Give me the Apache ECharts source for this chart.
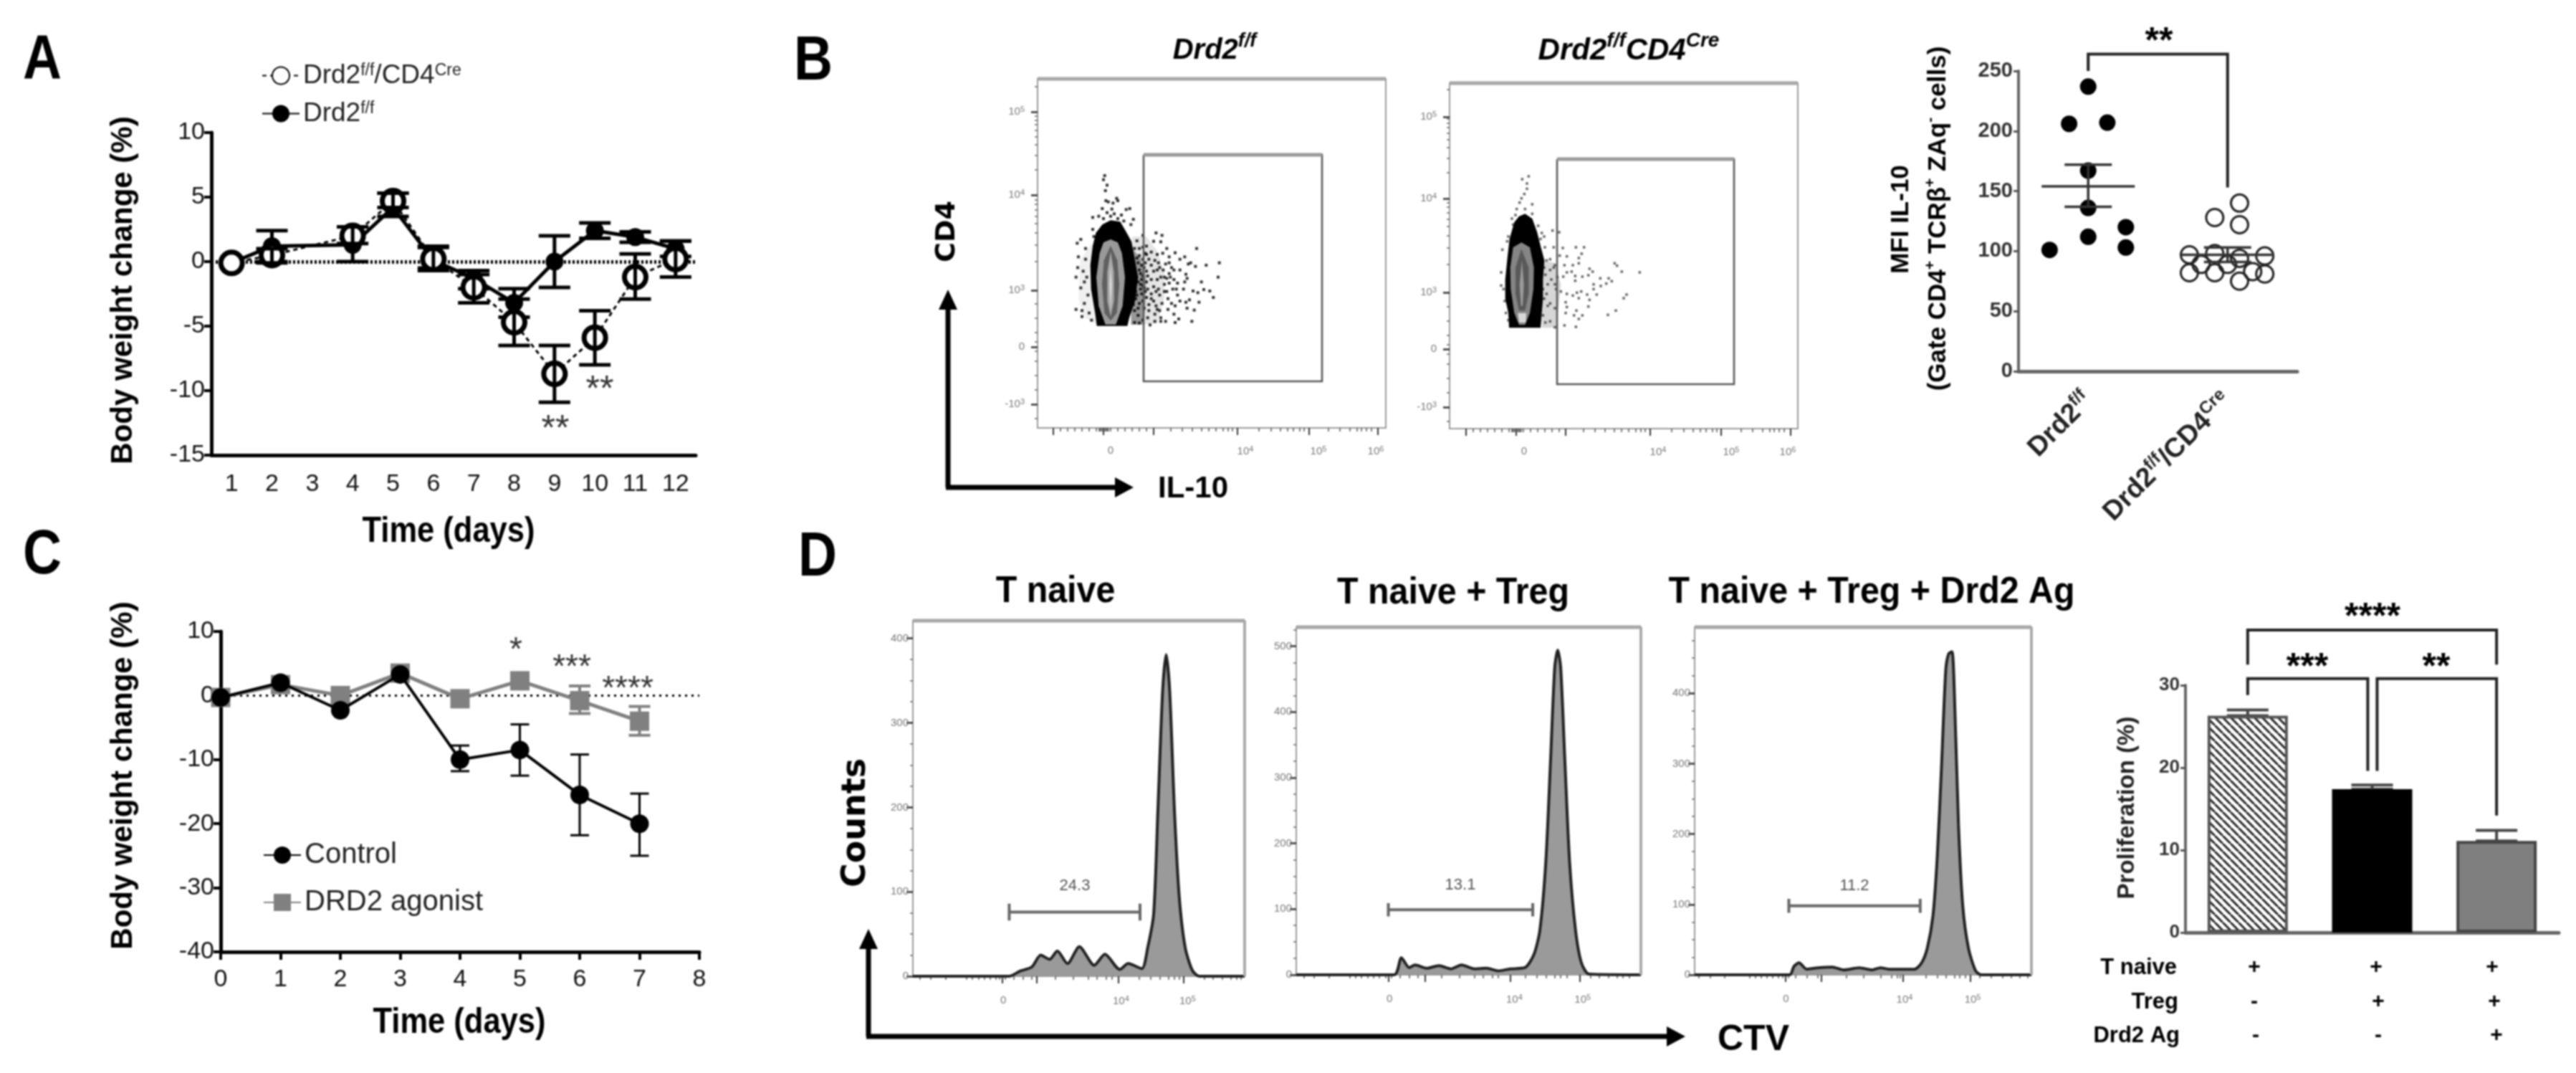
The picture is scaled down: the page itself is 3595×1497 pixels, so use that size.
<!DOCTYPE html>
<html><head><meta charset="utf-8">
<style>html,body{margin:0;padding:0;background:#fff}#c{width:3595px;height:1497px;filter:blur(.8px)}</style>
<script src="https://cdn.jsdelivr.net/npm/echarts@6/dist/echarts.min.js"></script>
</head><body><div id="c"></div>
<script>
/* ---------- Panel A ---------- */
const aDays=['1','2','3','4','5','6','7','8','9','10','11','12'];
const aOpen=[-0.1,0.5,null,2.0,4.7,0.2,-2.0,-4.7,-8.7,-5.9,-1.2,0.2];
const aOpenLow=[null,-0.1,null,1.4,4.2,-0.7,-3.2,-6.5,-10.9,-8.0,-2.9,-1.2];
const aOpenHigh=[null,1.0,null,2.7,5.3,1.2,-1.0,-2.9,-6.5,-3.8,0.6,1.6];
const aFilled=[-0.1,1.2,null,1.3,4.2,0.1,-1.3,-3.2,0.0,2.4,1.9,1.0];
const aFilledLow=[null,0.0,null,0.0,3.5,-0.5,-2.1,-4.3,-2.0,1.8,1.5,0.4];
const aFilledHigh=[null,2.4,null,2.7,5.3,1.1,-0.7,-2.1,2.0,3.0,2.3,1.6];
/* ---------- Panel C ---------- */
const cDays=[0,1,2,3,4,5,6,7];
const cControl=[-0.3,2.0,-2.3,3.3,-10.0,-8.5,-15.5,-20.0];
const cControlLow=[null,null,null,null,-11.8,-12.5,-21.8,-25.0];
const cControlHigh=[null,null,null,null,-7.8,-4.5,-9.2,-15.3];
const cAgonist=[-0.3,1.7,0.0,3.5,-0.5,2.3,-0.8,-4.0];
const cAgonistLow=[null,null,null,null,null,null,-2.8,-6.2];
const cAgonistHigh=[null,null,null,null,null,null,1.5,-1.7];
/* ---------- Panel B, MFI dot plot ---------- */
const bGroups=['Drd2f/f','Drd2f/f/CD4Cre'];
const bFilledPoints=[[0,237],[-0.137,206],[0.137,207],[0,167],[0,136],[0,112],[0.27,120],[0.27,103],[-0.277,101]];
const bOpenPoints=[[1.086,140],[0.908,128],[1.086,122],[0.726,97],[0.908,98],[1.086,94],[1.267,96],[0.81,89],[1,89],[0.726,82],[0.908,82],[1.086,75],[1.267,81],[1.18,83]];
const bSummary=[[0,154,137,172],[1,97,91,103]];
const bBracket=[[0,250],[0,264],[1,264],[1,153]];
/* ---------- Panel D, proliferation bars ---------- */
const dGroups=['A','B','C'];
const dBars=[26.3,17.4,11.1];
const dBarHigh=[27.0,17.9,12.4];
const dBracketLeft=[[0,28.8],[0,30.8],[0.965,30.8],[0.965,19.6]];
const dBracketRight=[[1.04,19.6],[1.04,30.8],[2,30.8],[2,14.2]];
const dBracketTop=[[0,32.5],[0,36.7],[2,36.7],[2,32.5]];
/* ---------- Panel D, CTV histograms (channel, count) ---------- */
const histNaive=[[210,0],[372,0],[390,6],[410,11],[425,25],[440,20],[453,30],[470,15],[490,35],[515,13],[533,26],[558,8],[572,15],[595,9],[605,34],[615,74],[622,195],[630,337],[636,381],[642,337],[650,195],[658,94],[668,34],[680,7],[692,0],[768,0]];
const histTreg=[[855,0],[1020,0],[1032,26],[1045,11],[1055,15],[1075,10],[1095,14],[1115,9],[1133,15],[1155,9],[1175,10],[1195,6],[1215,9],[1240,11],[1255,31],[1265,68],[1275,172],[1283,327],[1290,468],[1295,494],[1300,468],[1307,327],[1315,172],[1325,68],[1335,18],[1348,1],[1435,0]];
const histAgonist=[[165,0],[500,0],[515,12],[533,17],[560,8],[600,10],[650,11],[690,7],[745,10],[790,7],[820,10],[850,8],[940,8],[965,17],[985,38],[1005,84],[1020,167],[1035,295],[1050,433],[1060,456],[1072,459],[1080,406],[1095,213],[1110,98],[1130,38],[1155,6],[1175,0],[1352,0]];
const gateNaive=[[372,66],[372,86],[372,76],[592,76],[592,66],[592,86]];
const gateTreg=[[1010,89],[1010,109],[1010,99],[1253,99],[1253,89],[1253,109]];
const gateAgonist=[[497,88],[497,108],[497,98],[960,98],[960,88],[960,108]];
const histLabels=['24.3','13.1','11.2'];
/* ---------- Panel B, flow cytometry dot plots (display channels) ---------- */
const dotsFF=[[125,45],[120,62],[135,85],[128,108],[130,150],[175,140],[180,150],[140,155],[160,160],[115,183],[155,185],[230,183],[215,187],[75,220],[100,215],[245,228],[135,200],[165,205],[195,210],[120,225],[150,215],[180,225],[205,235],[235,250],[75,270],[80,300],[25,312],[10,328],[45,350],[15,385],[45,395],[12,430],[35,445],[50,470],[5,470],[40,490],[25,515],[55,545],[40,580],[5,605],[30,635],[60,620],[70,650],[30,610],[285,295],[340,285],[365,295],[260,318],[330,320],[360,322],[385,350],[300,340],[270,350],[345,375],[368,370],[420,368],[395,385],[510,350],[460,385],[440,395],[485,410],[505,425],[475,415],[550,420],[605,410],[600,470],[530,490],[565,528],[580,555],[540,522],[515,535],[495,528],[520,575],[480,565],[465,575],[470,600],[500,608],[490,655],[440,570],[420,590],[415,625],[435,645],[420,660],[380,655],[360,655],[335,655],[390,605],[355,610],[360,640],[315,670],[465,458],[470,475],[415,480],[430,495],[395,410],[350,410],[310,395],[290,430],[275,455],[305,465],[330,445],[370,440],[395,455],[345,480],[375,500],[410,520],[395,495],[330,510],[305,520],[280,540],[300,555],[320,540],[355,545],[390,560],[430,545],[455,520],[460,490],[270,380],[265,410],[295,370],[300,490],[285,505],[265,490],[255,530],[270,580],[290,600],[310,585],[340,590],[365,580],[250,610],[265,630],[285,650],[250,660],[270,662],[305,640],[335,625],[280,480],[295,410],[320,420],[345,440],[415,440],[440,440],[385,530],[405,580],[350,520],[425,520],[285,345],[250,350],[260,390],[245,440],[255,470],[280,420],[300,445],[320,480],[360,470],[385,475],[255,560],[245,585],[275,520],[295,530],[310,610],[330,570],[270,440],[285,465],[275,500],[290,515],[260,545],[285,570],[265,600],[250,500],[245,540],[300,375],[285,395],[320,365],[335,400],[355,430],[380,415],[405,430],[375,470],[340,530],[320,560],[345,605],[375,530],[400,470]];
const dotsCre=[[190,48],[163,60],[183,78],[183,100],[172,122],[160,140],[152,158],[205,165],[140,185],[175,185],[135,210],[120,225],[205,205],[125,250],[230,255],[245,285],[255,300],[290,275],[318,282],[105,300],[240,310],[100,320],[80,355],[258,345],[295,345],[333,348],[388,345],[422,345],[320,380],[350,383],[412,372],[400,390],[400,412],[375,420],[340,420],[280,395],[300,420],[550,412],[560,422],[580,447],[655,450],[445,435],[458,447],[75,450],[440,462],[415,468],[385,465],[370,447],[350,450],[335,468],[385,485],[490,475],[525,475],[538,487],[515,497],[492,507],[462,500],[462,520],[475,543],[435,543],[410,530],[392,535],[375,547],[350,540],[325,530],[305,520],[400,558],[445,565],[600,543],[588,558],[555,610],[522,628],[440,593],[345,575],[350,595],[390,610],[345,620],[380,630],[415,630],[400,645],[340,672],[388,678],[300,680],[280,655],[260,660],[250,630],[270,590],[255,560],[280,580],[300,600],[265,540],[250,520],[270,500],[300,500],[285,480],[260,460],[280,440],[295,430],[255,430],[310,470],[265,400],[90,570],[85,520],[95,620],[75,505],[105,650]];
const blobFF=[
 {fill:'rgba(0,0,0,.06)',pts:[[68,330],[22,400],[15,560],[40,640],[90,668],[90,340]]},
 {fill:'rgba(0,0,0,.10)',pts:[[240,300],[300,300],[345,360],[375,450],[375,560],[345,664],[235,672]]},
 {fill:'rgba(0,0,0,.34)',pts:[[240,350],[275,390],[298,470],[295,600],[285,668],[235,668]]},
 {fill:'#000',pts:[[150,232],[190,238],[212,275],[237,320],[252,400],[265,470],[252,570],[228,640],[220,674],[92,674],[85,620],[68,520],[65,420],[75,340],[88,285],[115,250]]},
 {fill:'#9a9a9a',pts:[[150,312],[180,325],[197,370],[210,470],[200,590],[172,668],[128,668],[100,590],[90,470],[104,370],[120,325]]},
 {fill:'#5f5f5f',pts:[[150,338],[178,400],[186,500],[176,620],[150,652],[124,620],[114,500],[122,400]]},
 {fill:'#a8a8a8',pts:[[150,362],[164,450],[164,570],[150,636],[136,570],[136,450]]},
 {fill:'#dddddd',pts:[[150,420],[155,500],[150,610],[145,500]]}];
const blobCre=[
 {fill:'rgba(0,0,0,.16)',pts:[[245,400],[300,410],[325,500],[315,600],[305,682],[245,682]]},
 {fill:'#000',pts:[[175,205],[205,225],[225,280],[240,340],[256,400],[250,480],[250,560],[245,620],[240,682],[108,682],[105,620],[92,560],[92,480],[100,400],[110,310],[130,240],[150,215]]},
 {fill:'#858585',pts:[[160,325],[195,345],[212,430],[210,520],[195,620],[175,670],[150,670],[130,620],[115,520],[113,430],[125,345]]},
 {fill:'#595959',pts:[[160,352],[190,430],[190,540],[175,610],[150,610],[135,540],[135,430]]},
 {fill:'#9b9b9b',pts:[[162,400],[170,500],[165,590],[158,590],[152,500]]},
 {fill:'#d8d8d8',pts:[[145,620],[180,620],[178,660],[150,660]]}];
const gateFF=[[288,-42],[1035,-42],[1035,906],[288,906],[288,-42]];
const gateCre=[[309,-24],[1050,-24],[1050,918],[309,918],[309,-24]];

/* ---------- shared ---------- */
const NARROW='"Liberation Sans",sans-serif';
const SANS='"Liberation Sans",sans-serif';
const grids=[],xAxes=[],yAxes=[],series=[],legends=[];
const blank={splitLine:{show:false}};
function addGrid(l,t,w,h,extra){grids.push(Object.assign({left:l,top:t,width:w,height:h,outerBoundsMode:'none'},extra||{}));return grids.length-1;}
function addX(o){xAxes.push(Object.assign({position:'bottom'},blank,o));return xAxes.length-1;}
function addY(o){yAxes.push(Object.assign({position:'left'},blank,o));return yAxes.length-1;}
function poly(xi,yi,pts,color,width,z,type){
 series.push({type:'line',xAxisIndex:xi,yAxisIndex:yi,data:pts,symbol:'none',silent:true,clip:false,z:z||5,
  lineStyle:{color,width,type:type||'solid',cap:'butt',join:'miter'},emphasis:{disabled:true}});
}
function errBars(xi,yi,rows,capPx,width,color,z){
 series.push({type:'custom',xAxisIndex:xi,yAxisIndex:yi,clip:false,z:z||3,silent:true,data:rows,
  encode:{x:0,y:[1,2]},
  renderItem(p,api){
   const x=api.value(0),a=api.coord([x,api.value(1)]),b=api.coord([x,api.value(2)]);
   const st={stroke:color,lineWidth:width,fill:null};
   const L=(x1,y1,x2,y2)=>({type:'line',shape:{x1,y1,x2,y2},style:st});
   return {type:'group',children:[L(a[0],a[1],b[0],b[1]),L(a[0]-capPx/2,a[1],a[0]+capPx/2,a[1]),L(b[0]-capPx/2,b[1],b[0]+capPx/2,b[1])]};
  }});
}
const rows=(xs,lo,hi)=>xs.map((x,i)=>[x,lo[i],hi[i]]).filter(r=>r[1]!==null);
function polygonSeries(xi,yi,pts,fill,z){
 series.push({type:'custom',xAxisIndex:xi,yAxisIndex:yi,silent:true,clip:false,z,data:[pts[0]],encode:{x:0,y:1},
  renderItem(p,api){return {type:'polygon',shape:{points:pts.map(q=>api.coord(q))},style:{fill}};}});
}
const numAxisLabel=(size,color,family,margin,weight)=>({fontSize:size,color,fontFamily:family,margin,fontWeight:weight||'normal'});

/* ---------- Panel A chart ---------- */
{
 const g=addGrid(295,185,676,450);
 const xi=addX({gridIndex:g,type:'category',data:aDays,boundaryGap:true,
  axisLine:{onZero:false,lineStyle:{color:'#000',width:5}},axisTick:{alignWithLabel:true,length:11,lineStyle:{color:'#000',width:4}},
  axisLabel:Object.assign({interval:0},numAxisLabel(34,'#111',NARROW,24))});
 const yi=addY({gridIndex:g,type:'value',min:-15,max:10,interval:5,
  axisLine:{show:true,onZero:false,lineStyle:{color:'#000',width:5}},axisTick:{show:true,length:10,lineStyle:{color:'#000',width:4}},
  axisLabel:numAxisLabel(34,'#111',NARROW,9)});
 errBars(xi,yi,rows(aDays.map((d,i)=>i),aFilledLow,aFilledHigh),44,5,'#000',3);
 series.push({name:'Drd2f/f',type:'line',xAxisIndex:xi,yAxisIndex:yi,data:aFilled,connectNulls:true,symbol:'circle',symbolSize:25,z:4,
  lineStyle:{color:'#000',width:5},itemStyle:{color:'#000'},
  markLine:{silent:true,symbol:'none',label:{show:false},animation:false,data:[{yAxis:0}],lineStyle:{color:'#000',width:5,type:[3,3],cap:'butt'}}});
 series.push({name:'Drd2f/f/CD4Cre',type:'line',xAxisIndex:xi,yAxisIndex:yi,data:aOpen,connectNulls:true,symbol:'circle',symbolSize:30,z:6,
  lineStyle:{color:'#000',width:3,type:[6,5]},itemStyle:{color:'#fff',borderColor:'#000',borderWidth:7}});
 errBars(xi,yi,rows(aDays.map((d,i)=>i),aOpenLow,aOpenHigh),44,5,'#000',7);
 const sup={verticalAlign:'top',fontSize:23,fontFamily:NARROW,color:'#222',lineHeight:36};
 legends.push({left:360,top:82,orient:'vertical',itemWidth:52,itemHeight:30,itemGap:16,
  data:['Drd2f/f/CD4Cre','Drd2f/f'],
  textStyle:{fontFamily:NARROW,fontSize:37,color:'#222',rich:{s:sup,t:{fontSize:37,fontFamily:NARROW,color:'#222',lineHeight:36}}},
  formatter:n=>n==='Drd2f/f'?'{t|Drd2}{s|f/f}':'{t|Drd2}{s|f/f}{t|/CD4}{s|Cre}'});
}
/* ---------- Panel C chart ---------- */
{
 const g=addGrid(308,881,668,447);
 const xi=addX({gridIndex:g,type:'value',min:0,max:8,interval:1,
  axisLine:{onZero:false,lineStyle:{color:'#000',width:5}},axisTick:{length:11,lineStyle:{color:'#000',width:4}},
  axisLabel:numAxisLabel(34,'#111',NARROW,22)});
 const yi=addY({gridIndex:g,type:'value',min:-40,max:10,interval:10,
  axisLine:{show:true,onZero:false,lineStyle:{color:'#000',width:5}},axisTick:{show:true,length:10,lineStyle:{color:'#000',width:4}},
  axisLabel:numAxisLabel(34,'#111',NARROW,9)});
 errBars(xi,yi,rows(cDays,cAgonistLow,cAgonistHigh),30,4,'#808080',3);
 series.push({name:'DRD2 agonist',type:'line',xAxisIndex:xi,yAxisIndex:yi,data:cDays.map((d,i)=>[d,cAgonist[i]]),symbol:'rect',symbolSize:27,z:4,
  lineStyle:{color:'#808080',width:5},itemStyle:{color:'#808080'},
  markLine:{silent:true,symbol:'none',label:{show:false},animation:false,data:[{yAxis:0}],lineStyle:{color:'#000',width:3,type:[3,6],cap:'butt'},z:2}});
 errBars(xi,yi,rows(cDays,cControlLow,cControlHigh),26,3,'#000',5);
 series.push({name:'Control',type:'line',xAxisIndex:xi,yAxisIndex:yi,data:cDays.map((d,i)=>[d,cControl[i]]),symbol:'circle',symbolSize:26,z:6,
  lineStyle:{color:'#000',width:4},itemStyle:{color:'#000'}});
 legends.push({left:362,top:1168,orient:'vertical',itemWidth:52,itemHeight:30,itemGap:26,
  data:['Control','DRD2 agonist'],textStyle:{fontFamily:NARROW,fontSize:40,color:'#222'}});
}
/* ---------- Panel B MFI chart ---------- */
{
 const g=addGrid(2817,99,389,419);
 const supB={verticalAlign:'top',fontSize:24,fontFamily:SANS,color:'#222',fontWeight:'bold',lineHeight:44};
 const tB={fontSize:38,fontFamily:SANS,color:'#222',fontWeight:'bold',lineHeight:44};
 const xc=addX({gridIndex:g,type:'category',data:bGroups,
  axisLine:{onZero:false,lineStyle:{color:'#666',width:5}},axisTick:{alignWithLabel:true,length:8,lineStyle:{color:'#555',width:3}},
  axisLabel:{interval:0,rotate:45,margin:36,rich:{s:supB,t:tB},
   formatter:n=>n==='Drd2f/f'?'{t|Drd2}{s|f/f}':'{t|Drd2}{s|f/f}{t|/CD4}{s|Cre}'}});
 const xv=addX({gridIndex:g,type:'value',min:-0.5,max:1.5,show:false});
 const yi=addY({gridIndex:g,type:'value',min:0,max:250,interval:50,
  axisLine:{show:true,onZero:false,lineStyle:{color:'#666',width:4}},axisTick:{show:true,length:7,lineStyle:{color:'#555',width:3}},
  axisLabel:numAxisLabel(29,'#333',SANS,8,'bold')});
 series.push({type:'scatter',xAxisIndex:xv,yAxisIndex:yi,data:bFilledPoints,symbol:'circle',symbolSize:23,itemStyle:{color:'#000',opacity:1},z:3});
 series.push({type:'scatter',xAxisIndex:xv,yAxisIndex:yi,data:bOpenPoints,symbol:'circle',symbolSize:24,itemStyle:{color:'rgba(255,255,255,0)',borderColor:'#222',borderWidth:3,opacity:1},z:3});
 series.push({type:'custom',xAxisIndex:xv,yAxisIndex:yi,silent:true,z:4,clip:false,data:bSummary,encode:{x:0,y:[1,2,3]},
  renderItem(p,api){
   const x=api.value(0),m=api.coord([x,api.value(1)]),a=api.coord([x,api.value(2)]),b=api.coord([x,api.value(3)]);
   const st={stroke:'#333',lineWidth:3.5,fill:null};
   const L=(x1,y1,x2,y2)=>({type:'line',shape:{x1,y1,x2,y2},style:st});
   return {type:'group',children:[L(m[0]-65,m[1],m[0]+65,m[1]),L(a[0],a[1],b[0],b[1]),L(a[0]-33,a[1],a[0]+33,a[1]),L(b[0]-33,b[1],b[0]+33,b[1])]};
  }});
 poly(xv,yi,bBracket,'#222',4,5);
}
/* ---------- Panel D bars ---------- */
{
 const g=addGrid(3050,956,521,345);
 const xc=addX({gridIndex:g,type:'category',data:dGroups,
  axisLine:{onZero:false,lineStyle:{color:'#666',width:5}},axisTick:{alignWithLabel:true,length:8,lineStyle:{color:'#555',width:3}},axisLabel:{show:false}});
 const xv=addX({gridIndex:g,type:'value',min:-0.5,max:2.5,show:false});
 const yi=addY({gridIndex:g,type:'value',min:0,max:30,interval:10,
  axisLine:{show:true,onZero:false,lineStyle:{color:'#666',width:4}},axisTick:{show:true,length:7,lineStyle:{color:'#555',width:3}},
  axisLabel:numAxisLabel(26,'#333',SANS,8,'bold')});
 const tile=document.createElement('canvas');tile.width=tile.height=11;
 const ctx=tile.getContext('2d');ctx.fillStyle='#fff';ctx.fillRect(0,0,11,11);ctx.strokeStyle='#222';ctx.lineWidth=3;
 [[-11,-0],[0,0],[11,0]].forEach(o=>{ctx.beginPath();ctx.moveTo(o[0],0);ctx.lineTo(o[0]+11,11);ctx.stroke();});
 const styles=[{color:{image:tile,repeat:'repeat'},borderColor:'#555',borderWidth:4},{color:'#000',borderColor:'#000',borderWidth:2},{color:'#7f7f7f',borderColor:'#444',borderWidth:4}];
 errBars(xc,yi,dGroups.map((d,i)=>[i,dBars[i],dBarHigh[i]]),58,4,'#444',1);
 series.push({type:'bar',xAxisIndex:xc,yAxisIndex:yi,barWidth:112,z:3,data:dBars.map((v,i)=>({value:v,itemStyle:styles[i]}))});
 poly(xv,yi,dBracketLeft,'#222',4,5);
 poly(xv,yi,dBracketRight,'#222',4,5);
 poly(xv,yi,dBracketTop,'#222',4,5);
}
/* ---------- flow plots ---------- */
function flowPlot(o){
 const g=addGrid(o.left,o.top,o.w,o.h,{show:true,borderColor:'#9a9a9a',borderWidth:2,backgroundColor:'transparent'});
 const sup={verticalAlign:'top',fontSize:11,color:'#777',fontFamily:SANS,lineHeight:18};
 const tk={fontSize:15,color:'#777',fontFamily:SANS,lineHeight:18};
 const fmt=(vals,txt)=>v=>{const i=vals.indexOf(v);return i<0?'':txt[i];};
 const xi=addX({gridIndex:g,type:'value',min:o.xr[0],max:o.xr[1],axisLine:{show:false,onZero:false},
  axisTick:{show:true,customValues:o.xMajor,length:10,lineStyle:{color:'#333',width:2}},
  axisLabel:{show:true,customValues:o.xLabelAt,formatter:fmt(o.xLabelAt,o.xLabels),margin:o.xMargin||24,rich:{s:sup,t:tk},fontSize:15,color:'#777',hideOverlap:false,showMinLabel:true,showMaxLabel:true}});
 addX({gridIndex:g,type:'value',min:o.xr[0],max:o.xr[1],axisLine:{show:false,onZero:false},
  axisTick:{show:true,customValues:o.xMinor,length:5,lineStyle:{color:'#555',width:1.5}},axisLabel:{show:false}});
 const yi=addY({gridIndex:g,type:'value',min:o.yr[0],max:o.yr[1],inverse:!!o.yInverse,axisLine:{show:false,onZero:false},
  axisTick:{show:true,customValues:o.yMajor,length:9,lineStyle:{color:'#333',width:2.5}},
  axisLabel:{show:true,customValues:o.yMajor,formatter:fmt(o.yMajor,o.yLabels),margin:o.yMargin||6,rich:{s:sup,t:tk},fontSize:15,color:'#777',hideOverlap:false,showMinLabel:true,showMaxLabel:true}});
 addY({gridIndex:g,type:'value',min:o.yr[0],max:o.yr[1],inverse:!!o.yInverse,axisLine:{show:false,onZero:false},
  axisTick:{show:true,customValues:o.yMinor,length:4,lineStyle:{color:'#666',width:1.5}},axisLabel:{show:false}});
 const ytop=o.yInverse?o.yr[0]:o.yr[1];
 poly(xi,yi,[[o.xr[0],ytop],[o.xr[1],ytop]],'#a6a6a6',5,8);
 if(o.thickRight) poly(xi,yi,[[o.xr[1],o.yr[0]],[o.xr[1],o.yr[1]]],'#aaaaaa',4,8);
 return {xi,yi};
}
const bYLabels=['10{s|5}','10{s|4}','10{s|3}','0','-10{s|3}'];
const bXLabels=['0','10{s|4}','10{s|5}','10{s|6}'];
const bXMinor=[-60,-30,0,30,60,90,100,105,110,115,120,125,130,135,140,150,180,210,240,270,300,400,450,490,530,560,590,620,640,660,770,820,860,890,915,940,960,1060,1110,1150,1180,1200,1220,1240];
const bYMinor=[-327,-206,-188,-168,-145,-117,-84,-40,21,145,165,188,215,246,285,335,405,580,640,700,740,780,820,880,940,1060];
{
 const p=flowPlot({left:1448,top:110,w:486,h:487,xr:[-156,1302],yr:[-360,1101],yInverse:true,yMargin:18,
  xMajor:[-90,120,330,681,981,1269],xLabelAt:[150,714,1020,1260],xLabels:bXLabels,
  xMinor:bXMinor,yMajor:[-222,126,525,762,1002],yLabels:bYLabels,yMinor:bYMinor});
 blobFF.slice(0,3).forEach((b,i)=>polygonSeries(p.xi,p.yi,b.pts,b.fill,2+i*0.1));
 series.push({type:'scatter',xAxisIndex:p.xi,yAxisIndex:p.yi,data:dotsFF,symbol:'rect',symbolSize:4,itemStyle:{color:'#000',opacity:.8},z:3,silent:true});
 blobFF.slice(3).forEach((b,i)=>polygonSeries(p.xi,p.yi,b.pts,b.fill,4+i*0.1));
 poly(p.xi,p.yi,gateFF,'#555',2.5,6);
 poly(p.xi,p.yi,gateFF.slice(0,2),'#999',5,7);
}
{
 const p=flowPlot({left:2023,top:116,w:486,h:482,xr:[-141,1317],yr:[-342,1104],yInverse:true,yMargin:18,
  xMajor:[-72,138,345,699,996,1287],xLabelAt:[171,732,1038,1275],xLabels:bXLabels,
  xMinor:bXMinor.map(v=>v+18),yMajor:[-201,141,534,771,1014],yLabels:bYLabels,yMinor:bYMinor.map(v=>v+12)});
 polygonSeries(p.xi,p.yi,blobCre[0].pts,blobCre[0].fill,2);
 series.push({type:'scatter',xAxisIndex:p.xi,yAxisIndex:p.yi,data:dotsCre,symbol:'rect',symbolSize:3.5,itemStyle:{color:'#000',opacity:.6},z:3,silent:true});
 blobCre.slice(1).forEach((b,i)=>polygonSeries(p.xi,p.yi,b.pts,b.fill,4+i*0.1));
 poly(p.xi,p.yi,gateCre,'#555',2.5,6);
 poly(p.xi,p.yi,gateCre.slice(0,2),'#999',5,7);
}
function hist(p,data,gate){
 series.push({type:'line',xAxisIndex:p.xi,yAxisIndex:p.yi,data,symbol:'none',smooth:0.25,silent:true,z:3,clip:false,
  lineStyle:{color:'#222',width:4},areaStyle:{color:'#9a9a9a',opacity:1}});
 poly(p.xi,p.yi,gate,'#666',4,5);
}
const dXLabels=['0','10{s|4}','10{s|5}'];
const dYMinor=[25,50,75,125,150,175,225,250,275,325,350,375,425,450,475,525];
{
 const p=flowPlot({left:1274,top:866,w:463,h:496,xr:[210,768],yr:[0,421],xMargin:26,thickRight:true,
  xMajor:[360,418,555,665],xLabelAt:[362,560,672],xLabels:dXLabels,
  xMinor:[222,240,265,300,310,320,330,340,350,355,365,380,395,410,450,480,505,520,535,545,590,610,625,640,650,658,700,715,730,745,755,762],
  yMajor:[0,100,200,300,400],yLabels:['0','100','200','300','400'],yMinor:dYMinor});
 hist(p,histNaive,gateNaive);
}
{
 const p=flowPlot({left:1809,top:875,w:481,h:485,xr:[855,1435],yr:[0,529],xMargin:26,thickRight:true,
  xMajor:[1010,1072,1215,1332],xLabelAt:[1012,1222,1337],xLabels:dXLabels,
  xMinor:[868,885,910,945,955,965,975,985,995,1005,1015,1030,1045,1060,1100,1130,1155,1170,1185,1195,1240,1260,1275,1290,1300,1310,1350,1365,1380,1395,1405,1415],
  yMajor:[0,100,200,300,400,500],yLabels:['0','100','200','300','400','500'],yMinor:dYMinor});
 hist(p,histTreg,gateTreg);
}
{
 const p=flowPlot({left:2365,top:875,w:470,h:485,xr:[165,1352],yr:[0,494],xMargin:26,thickRight:true,
  xMajor:[485,612,900,1137],xLabelAt:[487,905,1145],xLabels:dXLabels,
  xMinor:[180,220,270,360,380,400,420,440,460,475,495,520,560,600,700,760,820,860,880,890,980,1020,1050,1080,1100,1120,1170,1210,1250,1280,1310,1340],
  yMajor:[0,100,200,300,400],yLabels:['0','100','200','300','400'],yMinor:dYMinor});
 hist(p,histAgonist,gateAgonist);
}

/* ---------- text & arrows ---------- */
function T(x,y,text,o){o=o||{};return {type:'text',x,y,rotation:o.rot||0,scaleX:o.sx||1,z:100,silent:true,
 style:{text,fill:o.color||'#000',font:(o.italic?'italic ':'')+(o.weight||'bold')+' '+o.size+'px '+(o.family||NARROW),
  textAlign:o.align||'center',textVerticalAlign:'middle',rich:o.rich}};}
const UP=Math.PI/2;
const supOf=(size,family,italic)=>({s:{fontSize:size,fontFamily:family,fontWeight:'bold',fontStyle:italic?'italic':'normal',fill:'#000',verticalAlign:'top',lineHeight:size*2}});
const baseOf=(size,family,italic)=>({fontSize:size,fontFamily:family,fontWeight:'bold',fontStyle:italic?'italic':'normal',fill:'#000',lineHeight:size*1.2});
const arrow=(x1,y1,x2,y2,w)=>({type:'line',z:90,silent:true,shape:{x1,y1,x2,y2},style:{stroke:'#000',lineWidth:w}});
const tri=(pts)=>({type:'polygon',z:90,silent:true,shape:{points:pts},style:{fill:'#000'}});
const texts=[
 T(59,85,'A',{size:88,sx:.85}),T(1135,87,'B',{size:88,sx:.85}),T(59,776,'C',{size:88,sx:.85}),T(1141,779,'D',{size:88,sx:.85}),
 T(626,742,'Time (days)',{size:50,sx:.87}),T(641,1427,'Time (days)',{size:50,sx:.87}),
 T(172,405,'Body weight change (%)',{size:42,family:SANS,rot:UP}),
 T(172,1082,'Body weight change (%)',{size:42,family:SANS,rot:UP}),
 T(775,600,'**',{size:50,weight:'normal',color:'#333'}),T(837,545,'**',{size:50,weight:'normal',color:'#333'}),
 T(720,908,'*',{size:46,weight:'normal',color:'#333'}),T(798,932,'***',{size:46,weight:'normal',color:'#333'}),T(876,962,'****',{size:46,weight:'normal',color:'#333'}),
 T(1695,71,'{t|Drd2}{s|f/f}',{size:40,italic:true,rich:Object.assign({t:baseOf(40,NARROW,true)},supOf(27,NARROW,true))}),
 T(2273,71,'{t|Drd2}{s|f/f}{t|CD4}{s|Cre}',{size:42,italic:true,rich:Object.assign({t:baseOf(42,NARROW,true)},supOf(28,NARROW,true))}),
 T(1322,323,'CD4',{size:38,family:'"DejaVu Sans",sans-serif',rot:UP}),
 T(1665,682,'IL-10',{size:42}),
 T(3013,59,'**',{size:50,family:SANS}),
 T(2653,306,'MFI IL-10',{size:35,family:SANS,rot:UP}),
 T(2705,305,'{t|(Gate CD4}{s|+}{t| TCRβ}{s|+}{t| ZAq}{s|-}{t| cells)}',{size:35,family:SANS,rot:UP,rich:Object.assign({t:baseOf(35,SANS)},supOf(21,SANS))}),
 T(1473,826,'T naive',{size:52,sx:.93}),T(2028,828,'T naive + Treg',{size:52,sx:.93}),T(2612,827,'T naive + Treg + Drd2 Ag',{size:52,sx:.93}),
 T(1195,1148,'Counts',{size:46,family:'"DejaVu Sans",sans-serif',rot:UP}),
 T(2447,1451,'CTV',{size:50,family:SANS}),
 T(1500,1236,histLabels[0],{size:22,weight:'normal',color:'#555'}),T(2038,1235,histLabels[1],{size:22,weight:'normal',color:'#555'}),T(2588,1236,histLabels[2],{size:22,weight:'normal',color:'#555'}),
 T(3311,862,'****',{size:50,family:SANS}),T(3220,932,'***',{size:50,family:SANS}),T(3400,932,'**',{size:50,family:SANS}),
 T(2969,1127,'Proliferation (%)',{size:33,family:SANS,rot:UP,color:'#222'}),
 T(3038,1350,'T naive',{size:31,family:SANS,align:'right'}),T(3040,1398,'Treg',{size:31,family:SANS,align:'right'}),T(3042,1445,'Drd2 Ag',{size:31,family:SANS,align:'right'}),
 T(3146,1350,'+',{size:30,family:SANS}),T(3316,1350,'+',{size:30,family:SANS}),T(3478,1350,'+',{size:30,family:SANS}),
 T(3146,1398,'-',{size:30,family:SANS}),T(3319,1398,'+',{size:30,family:SANS}),T(3481,1398,'+',{size:30,family:SANS}),
 T(3148,1445,'-',{size:30,family:SANS}),T(3319,1445,'-',{size:30,family:SANS}),T(3484,1445,'+',{size:30,family:SANS}),
 arrow(1323,680,1323,430,7),arrow(1320,680,1560,680,7),tri([[1323,404],[1310,432],[1336,432]]),tri([[1582,680],[1556,666],[1556,694]]),
 arrow(1212,1446,1212,1320,7),arrow(1209,1446,2330,1446,7),tri([[1212,1296],[1199,1324],[1225,1324]]),tri([[2352,1446],[2326,1432],[2326,1460]])
];

const chart=echarts.init(document.getElementById('c'),null,{width:3595,height:1497});
chart.setOption({animation:false,backgroundColor:'#fff',tooltip:{show:false},
 grid:grids,xAxis:xAxes,yAxis:yAxes,legend:legends,series,graphic:{elements:texts}});
</script></body></html>
